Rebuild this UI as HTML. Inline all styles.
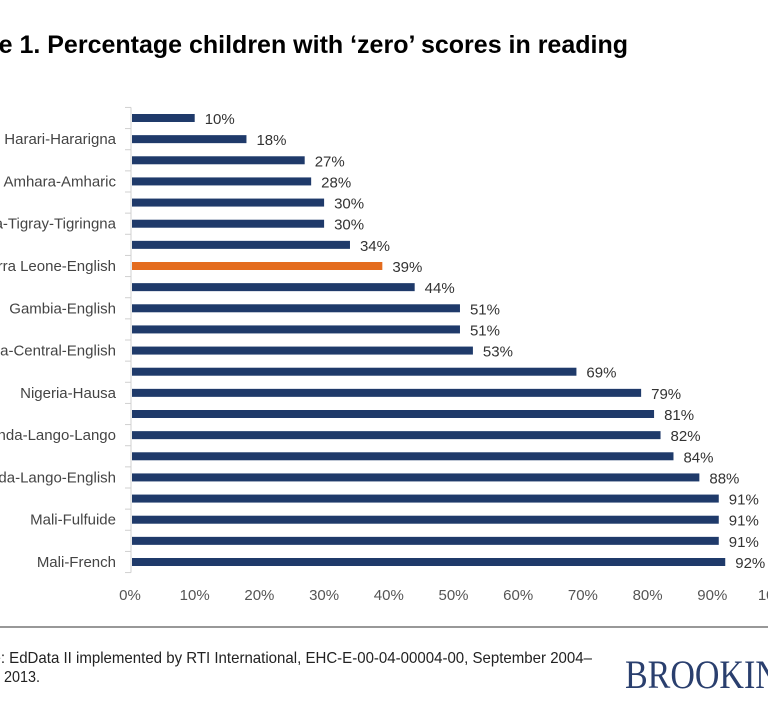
<!DOCTYPE html>
<html><head><meta charset="utf-8"><style>
html,body{margin:0;padding:0;background:#fff;}
svg{display:block;font-family:"Liberation Sans",sans-serif;}
</style></head><body>
<svg id="chart" width="768" height="720" viewBox="0 0 768 720">
<text x="628" y="53" text-anchor="end" font-size="25" font-weight="bold" fill="#000">Figure 1. Percentage children with ‘zero’ scores in reading</text>
<g id="plot"></g>
<line x1="0" y1="627" x2="768" y2="627" stroke="#777" stroke-width="1.5"/>
<g transform="translate(592,0) scale(0.94,1)">
<text x="0" y="663" text-anchor="end" font-size="16" fill="#222">Source: EdData II implemented by RTI International, EHC-E-00-04-00004-00, September 2004–</text>
</g>
<g transform="translate(40,0) scale(0.9,1)">
<text x="0" y="682" text-anchor="end" font-size="16" fill="#222">December 2013.</text>
</g>
<g transform="translate(625,0) scale(0.85,1)">
<text x="0" y="688" font-family="Liberation Serif, serif" font-size="40" fill="#2a3f6e">BROOKINGS</text>
</g>
</svg>
<script>
const categories=["","Harari-Hararigna","","Amhara-Amharic","","Ethiopia-Tigray-Tigringna","","Sierra Leone-English","","Gambia-English","","Liberia-Central-English","","Nigeria-Hausa","","Uganda-Lango-Lango","","Uganda-Lango-English","","Mali-Fulfuide","","Mali-French"];
const values=[10,18,27,28,30,30,34,39,44,51,51,53,69,79,81,82,84,88,91,91,91,92];
const highlight=[7];
const ticks=[0,10,20,30,40,50,60,70,80,90,100];
const NS="http://www.w3.org/2000/svg";
const g=document.getElementById('plot');
const x0=130,pxPer=6.47,yTop=118,step=(562-118)/21;
const xs=v=>x0+v*pxPer;
const ys=i=>yTop+i*step;
function mk(t,a){const e=document.createElementNS(NS,t);for(const k in a)e.setAttribute(k,a[k]);g.appendChild(e);return e;}
let ax=mk('line',{x1:x0+1,y1:ys(0)-step/2,x2:x0+1,y2:ys(21)+step/2,stroke:'#d0d0d0'});


for(let i=0;i<=22;i++){const y=ys(i)-step/2;const t=mk('line',{x1:x0-5,y1:y,x2:x0+1,y2:y,stroke:'#d0d0d0'});

}
values.forEach((v,i)=>{
const b=mk('rect',{x:x0+2,y:ys(i)-4,width:xs(v)-x0-2,height:8,fill:highlight.includes(i)?'#e46c1e':'#1f3a6a'});


const l=mk('text',{x:xs(v)+10,y:ys(i)+6,'font-size':15,fill:'#333'});l.textContent=v+'%';


if(categories[i]){const c=mk('text',{x:116,y:ys(i)+5,'text-anchor':'end','font-size':15,fill:'#444'});c.textContent=categories[i];

}
});
ticks.forEach(t=>{const e=mk('text',{x:xs(t),y:600,'text-anchor':'middle','font-size':15,fill:'#555'});e.textContent=t+'%';

});
</script>
</body></html>
